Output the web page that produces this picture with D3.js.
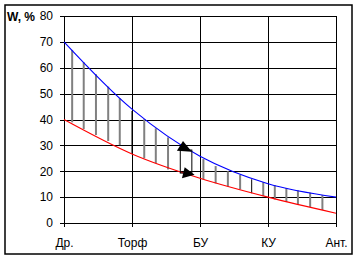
<!DOCTYPE html>
<html>
<head>
<meta charset="utf-8">
<script src="https://cdn.jsdelivr.net/npm/d3@7"></script>
<style>
  body { margin: 0; background: #fff; }
  svg text { font-family: "Liberation Sans", Arial, sans-serif; font-size: 12px; fill: #000; }
  .grid line, .axis line, .axis path { shape-rendering: crispEdges; }
</style>
</head>
<body>
<svg id="chart" width="359" height="260"></svg>
<script>
// categories along the x axis
const categories = ['Др.', 'Торф', 'БУ', 'КУ', 'Ант.'];
// moisture curves, W %
const upperW = [70, 44, 25.8, 15.2, 10];
const lowerW = [40, 26.7, 17.3, 10, 3.8];
const yTicks = [0, 10, 20, 30, 40, 50, 60, 70, 80];
// hatch lines: position along the axis (category units), top and bottom W
const hatchPos = [0.12, 0.29, 0.47, 0.65, 0.82, 1.0, 1.18, 1.35, 1.53, 2.05, 2.23, 2.41, 2.59, 2.76, 2.93, 3.1, 3.27, 3.44, 3.62, 3.8];
const hatchTop = [66.9, 62.1, 57.5, 52.7, 48.2, 43.3, 40.1, 36.6, 33.1, 24.7, 22.0, 20.0, 18.6, 16.9, 15.8, 14.6, 13.5, 12.6, 11.7, 10.8];
const hatchBottom = [38.9, 36.3, 34.0, 31.7, 30.1, 26.7, 25.0, 23.1, 20.7, 16.9, 15.3, 14.2, 13.0, 11.5, 10.4, 9.1, 8.1, 7.2, 6.2, 5.0];
const darkHatch = [5, 13];
// the framed pointer between the curves and its two arrowheads
const frameBox = [[1.71, 28.2], [1.88, 19.3]];
const arrowUp = [[1.66, 27.9], [1.75, 31.7], [1.88, 27.5]];
const arrowDown = [[1.775, 21.5], [1.735, 17.3], [1.92, 18.6]];

(function() {
  const svg = d3.select('#chart');
  const left = 64, right = 336, plotTop = 16, plotBottom = 223;

  const x = d3.scaleLinear().domain([0, categories.length - 1]).range([left, right]);
  const y = d3.scaleLinear().domain([0, 80]).range([plotBottom, plotTop]);

  // outer frame
  svg.append('rect').attr('x', 5).attr('y', 5).attr('width', 347).attr('height', 249)
    .attr('fill', 'none').attr('stroke', '#000').attr('stroke-width', 1.5);

  // grid
  svg.append('g').attr('class', 'grid').attr('transform', 'translate(' + left + ',0)')
    .call(d3.axisLeft(y).tickValues(yTicks.slice(1)).tickSize(-(right - left)).tickFormat(''))
    .call(g => g.select('.domain').remove())
    .call(g => g.selectAll('line').attr('stroke', '#000'));
  svg.append('g').attr('class', 'grid').attr('transform', 'translate(0,' + plotBottom + ')')
    .call(d3.axisBottom(x).tickValues(d3.range(1, categories.length)).tickSize(-(plotBottom - plotTop)).tickFormat(''))
    .call(g => g.select('.domain').remove())
    .call(g => g.selectAll('line').attr('stroke', '#000'));

  // axes
  const yAxis = svg.append('g').attr('class', 'axis').attr('transform', 'translate(' + left + ',0)')
    .call(d3.axisLeft(y).tickValues(yTicks).tickSize(4).tickSizeOuter(0).tickPadding(7));
  const xAxis = svg.append('g').attr('class', 'axis').attr('transform', 'translate(0,' + plotBottom + ')')
    .call(d3.axisBottom(x).tickValues(d3.range(categories.length)).tickSize(4).tickSizeOuter(0).tickPadding(11.5)
      .tickFormat(i => categories[i]));
  [yAxis, xAxis].forEach(a => {
    a.attr('font-size', null).attr('font-family', null);
    a.selectAll('line, path').attr('stroke', '#000');
  });

  svg.append('text').attr('x', 7).attr('y', 21).attr('font-weight', 'bold').text('W, %');

  // hatching
  svg.append('g').selectAll('line').data(hatchPos).enter().append('line')
    .attr('x1', d => x(d)).attr('x2', d => x(d))
    .attr('y1', (d, i) => y(hatchTop[i])).attr('y2', (d, i) => y(hatchBottom[i]))
    .attr('stroke', (d, i) => darkHatch.includes(i) ? '#000' : '#808080')
    .attr('stroke-width', (d, i) => darkHatch.includes(i) ? 1 : 2);

  // curves
  const line = d3.line().x((d, i) => x(i)).y(d => y(d)).curve(d3.curveCatmullRom.alpha(0.5));
  svg.append('path').attr('d', line(upperW)).attr('fill', 'none').attr('stroke', '#0000ff').attr('stroke-width', 1.1);
  svg.append('path').attr('d', line(lowerW)).attr('fill', 'none').attr('stroke', '#ff0000').attr('stroke-width', 1.1);

  // pointer frame and arrowheads
  svg.append('rect')
    .attr('x', x(frameBox[0][0])).attr('y', y(frameBox[0][1]))
    .attr('width', x(frameBox[1][0]) - x(frameBox[0][0]))
    .attr('height', y(frameBox[1][1]) - y(frameBox[0][1]))
    .attr('fill', 'none').attr('stroke', '#000');
  [arrowUp, arrowDown].forEach(tri => {
    svg.append('polygon')
      .attr('points', tri.map(p => x(p[0]) + ',' + y(p[1])).join(' '))
      .attr('fill', '#000');
  });
}());
</script>
</body>
</html>
